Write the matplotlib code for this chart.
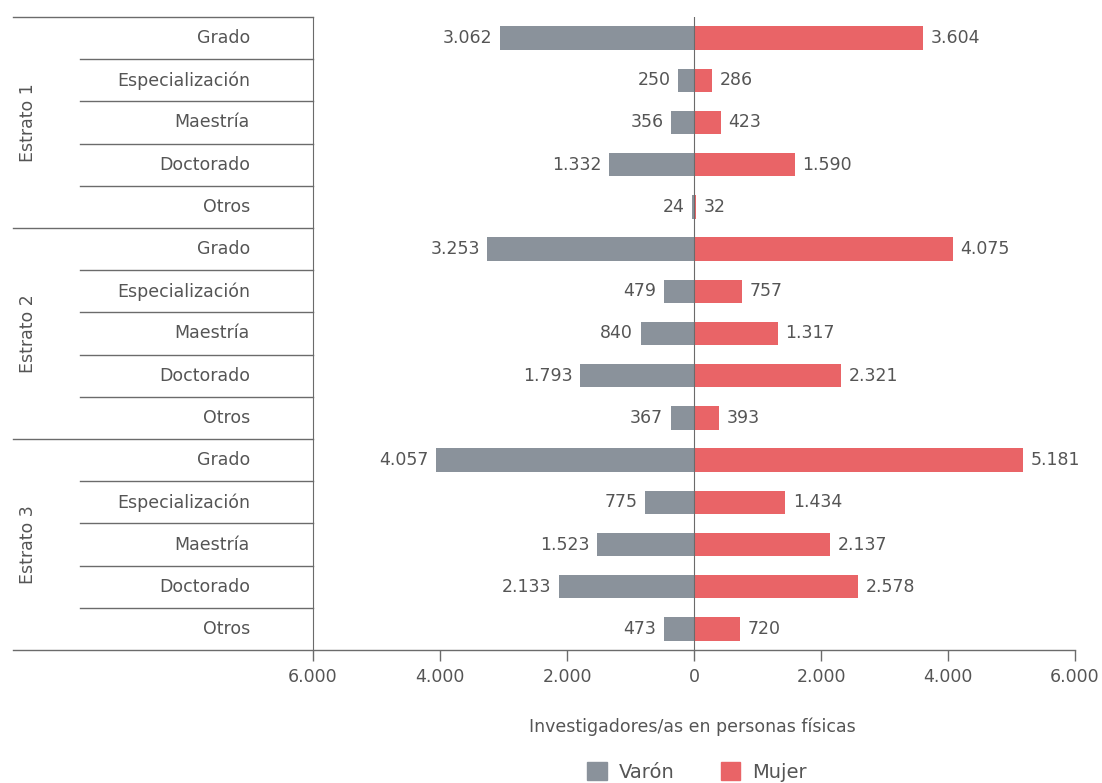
import matplotlib
matplotlib.use("Agg")
import matplotlib.pyplot as plt
from matplotlib.transforms import blended_transform_factory
from matplotlib.lines import Line2D
from matplotlib.patches import Patch

plt.rcParams["font.family"] = ["DejaVu Sans"]

estratos = ["Estrato 1", "Estrato 2", "Estrato 3"]
niveles = ["Grado", "Especialización", "Maestría", "Doctorado", "Otros"]

varon = [3062, 250, 356, 1332, 24,
         3253, 479, 840, 1793, 367,
         4057, 775, 1523, 2133, 473]
mujer = [3604, 286, 423, 1590, 32,
         4075, 757, 1317, 2321, 393,
         5181, 1434, 2137, 2578, 720]

x_ticks = [-6000, -4000, -2000, 0, 2000, 4000, 6000]

GRIS = "#8a929b"
ROJO = "#e96467"
TEXTO = "#555555"
LINEA = "#6b6b6b"

W, H = 1102, 783


def miles(v):
    return f"{int(abs(v)):,}".replace(",", ".")


fig = plt.figure(figsize=(W / 100, H / 100), dpi=100)
ax = fig.add_axes([313 / W, 1 - 650 / H, (1075 - 313) / W, (650 - 17) / H])

n = len(varon)
filas = list(range(n))
ax.barh(filas, [-v for v in varon], height=0.55, color=GRIS)
ax.barh(filas, mujer, height=0.55, color=ROJO)
ax.axvline(0, color=LINEA, lw=0.8)

for i in filas:
    ax.text(-varon[i] - 120, i, miles(varon[i]), ha="right", va="center",
            fontsize=12.5, color=TEXTO)
    ax.text(mujer[i] + 120, i, miles(mujer[i]), ha="left", va="center",
            fontsize=12.5, color=TEXTO)

ax.set_xlim(-6000, 6000)
ax.set_ylim(n - 0.5, -0.5)
ax.set_xticks(x_ticks)
ax.set_xticklabels([miles(t) for t in x_ticks])
ax.tick_params(axis="x", length=8, width=1, color=LINEA, labelcolor=TEXTO,
               labelsize=12.5, pad=5)
ax.set_yticks([])
for s in ["top", "right", "bottom"]:
    ax.spines[s].set_visible(False)
ax.spines["left"].set_color(LINEA)

# separadores de filas y grupos, extendidos hacia la izquierda
tr = blended_transform_factory(fig.transFigure, ax.transData)
for k in range(n + 1):
    y = k - 0.5
    if k % 5 == 0:
        x0 = 13 / W
        x1 = 313 / W if k < n else 1075 / W
    else:
        x0 = 80 / W
        x1 = 313 / W
    fig.add_artist(Line2D([x0, x1], [y, y], transform=tr, color=LINEA, lw=1))

for i in filas:
    fig.text(250 / W, i, niveles[i % 5], transform=tr, ha="right", va="center",
             fontsize=12.5, color=TEXTO)

for g, nombre in enumerate(estratos):
    fig.text(28 / W, g * 5 + 2, nombre, transform=tr, ha="center", va="center",
             rotation=90, fontsize=12.5, color=TEXTO)

fig.text(692 / W, 1 - 727 / H, "Investigadores/as en personas físicas",
         ha="center", va="center", fontsize=12.5, color=TEXTO)

handles = [Patch(color=GRIS, label="Varón"), Patch(color=ROJO, label="Mujer")]
fig.legend(handles=handles, loc="center", bbox_to_anchor=(697 / W, 1 - 772 / H),
           ncol=2, frameon=False, fontsize=14, labelcolor=TEXTO,
           handlelength=1.0, handleheight=1.0, columnspacing=2.4, handletextpad=0.6)

fig.savefig("out.png", dpi=100, facecolor="white")
